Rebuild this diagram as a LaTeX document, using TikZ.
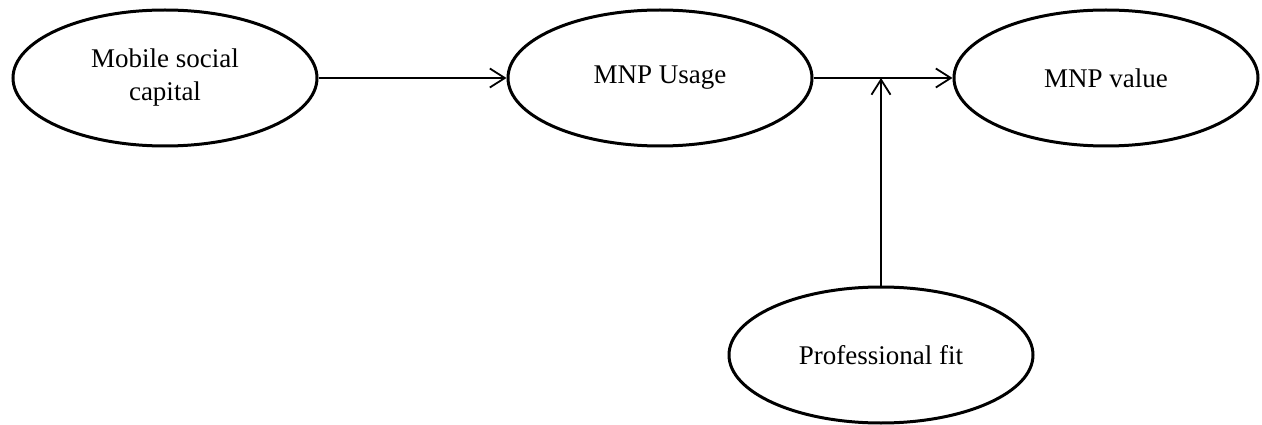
\documentclass[tikz,border=0pt]{standalone}
\usepackage{fontspec}
\setmainfont{Liberation Serif}
\usetikzlibrary{shapes.geometric,arrows.meta}
\begin{document}
\begin{tikzpicture}[x=1pt,y=-1pt,
  construct/.style={ellipse,draw,line width=3pt,minimum width=304pt,minimum height=136pt,inner sep=0pt,align=center,font=\fontsize{27}{33}\selectfont},
  link/.style={line width=1.8pt,-{Straight Barb[length=15pt,width=19pt,line width=1.8pt]}},
  plain/.style={line width=1.8pt}]
\useasboundingbox (0,0) rectangle (1262,425);
\node[construct] (msc) at (165,78) {Mobile social\\capital};
\node[construct] (use) at (660,78) {MNP Usage};
\node[construct] (val) at (1106,78) {MNP value};
\node[construct] (fit) at (881,355) {Professional fit};
\coordinate (j) at (881,78);
\draw[link] (msc) -- (use);
\draw[link] (use) -- (val);
\draw[link] (fit) -- (j);
\end{tikzpicture}
\end{document}
